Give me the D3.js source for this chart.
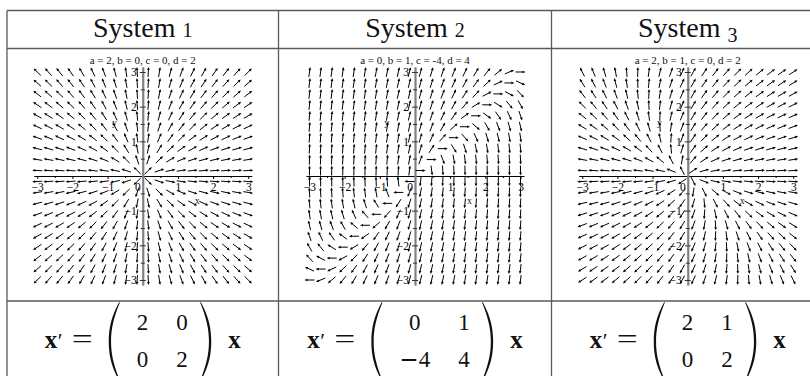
<!DOCTYPE html>
<html>
<head>
<meta charset="utf-8">
<script src="https://cdn.jsdelivr.net/npm/d3@7"></script>
<style>
  html, body { margin: 0; padding: 0; background: #fff; }
  svg { display: block; }
</style>
</head>
<body>
<svg id="chart" width="810" height="376"></svg>
<script>
// Three linear systems x' = A x, A = [[a, b], [c, d]]
const systemNames   = ["System", "System", "System"];
const systemNumbers = ["1", "2", "3"];
const coefA = [2, 0, 2];
const coefB = [0, 1, 1];
const coefC = [0, -4, 0];
const coefD = [2, 4, 2];

// Direction-field plot settings
const gridCount   = 20;            // arrows per row / column
const fieldMin    = -3;
const fieldMax    = 3;
const xTickValues = [-3, -2, -1, 0, 1, 2, 3];
const yTickValues = [-3, -2, -1, 1, 2, 3];
const minorTickValues = [-2.5, -1.5, -0.5, 0.5, 1.5, 2.5];

// Table geometry
const colEdges = [7, 278.5, 551.5, 824];
const rowLines = [10.5, 48.5, 301, 390];
const serif = "'Liberation Serif', 'Times New Roman', serif";

const svg = d3.select("#chart");

// ---- table frame ----
const frame = svg.append("g").attr("stroke", "#5a5a5a").attr("stroke-width", 1.3).attr("fill", "none");
rowLines.forEach(yy => frame.append("line").attr("x1", colEdges[0]).attr("x2", colEdges[3]).attr("y1", yy).attr("y2", yy));
colEdges.forEach(xx => frame.append("line").attr("x1", xx).attr("x2", xx).attr("y1", rowLines[0]).attr("y2", rowLines[3]));

const fmt = v => (v < 0 ? "\u2212" + (-v) : String(v));

systemNames.forEach((name, i) => {
  const cx = (colEdges[i] + colEdges[i + 1]) / 2;
  const a = coefA[i], b = coefB[i], c = coefC[i], d = coefD[i];

  // ---- header with old-style figure ----
  const head = svg.append("text")
    .attr("x", cx).attr("y", 36.5)
    .attr("text-anchor", "middle")
    .attr("font-family", serif).attr("font-size", 28).attr("fill", "#111");
  head.append("tspan").text(name + " ");
  const digit = systemNumbers[i];
  head.append("tspan")
    .attr("font-size", 20)
    .attr("dy", digit === "3" ? 5 : 0)
    .text(digit);

  // ---- direction field ----
  const ux = 35.17, uy = 34.67, oy = 176;
  const xs = d3.scaleLinear().domain([-3.1, 3.1]).range([cx - 3.1 * ux, cx + 3.1 * ux]);
  const ys = d3.scaleLinear().domain([-3.15, 3.15]).range([oy + 3.15 * uy, oy - 3.15 * uy]);

  const plot = svg.append("g");

  plot.append("text")
    .attr("x", xs(0)).attr("y", 63.5)
    .attr("text-anchor", "middle")
    .attr("font-family", serif).attr("font-size", 11).attr("fill", "#111")
    .text(`a = ${a}, b = ${b}, c = ${c}, d = ${d}`);

  // x axis
  const xAxis = plot.append("g").attr("transform", `translate(0,${ys(0)})`)
    .call(d3.axisBottom(xs).tickValues(xTickValues).tickSizeInner(3).tickSizeOuter(0).tickPadding(4)
      .tickFormat(fmt));
  xAxis.attr("font-family", serif);
  xAxis.select(".domain").attr("stroke", "#000").attr("stroke-width", 1);
  xAxis.selectAll(".tick line").attr("stroke", "#000");
  xAxis.selectAll(".tick text")
    .attr("font-family", serif).attr("font-size", 11.5).attr("fill", "#000")
    .attr("dx", v => (v === 0 ? -5.5 : 0));
  const xMinor = plot.append("g").attr("transform", `translate(0,${ys(0)})`)
    .call(d3.axisBottom(xs).tickValues(minorTickValues).tickSizeInner(2).tickSizeOuter(0).tickFormat(""));
  xMinor.select(".domain").remove();

  // y axis
  const yAxis = plot.append("g").attr("transform", `translate(${xs(0)},0)`)
    .call(d3.axisLeft(ys).tickValues(yTickValues).tickSizeInner(3).tickSizeOuter(0).tickPadding(3)
      .tickFormat(fmt));
  yAxis.attr("font-family", serif);
  yAxis.select(".domain").attr("stroke", "#808080").attr("stroke-width", 2.2);
  yAxis.selectAll(".tick line").attr("stroke", "#333").attr("x2", 3).attr("x1", -3);
  yAxis.selectAll(".tick text")
    .attr("font-family", serif).attr("font-size", 11.5).attr("fill", "#000");
  const yMinor = plot.append("g").attr("transform", `translate(${xs(0)},0)`)
    .call(d3.axisLeft(ys).tickValues(minorTickValues).tickSizeInner(2).tickSizeOuter(0).tickFormat(""));
  yMinor.select(".domain").remove();
  yMinor.selectAll(".tick line").attr("stroke", "#333").attr("x1", 2).attr("x2", -2);

  // axis names
  plot.append("text").attr("x", xs(-0.8)).attr("y", ys(1.55) + 3.5)
    .attr("text-anchor", "middle").attr("font-family", serif).attr("font-size", 10).attr("fill", "#222").text("y");
  plot.append("text").attr("x", xs(1.55)).attr("y", ys(-0.7) + 3.5)
    .attr("text-anchor", "middle").attr("font-family", serif).attr("font-size", 10).attr("fill", "#222").text("x");

  // arrows
  const step = (fieldMax - fieldMin) / (gridCount - 1);
  const gridVals = d3.range(gridCount).map(k => fieldMin + k * step);
  const pts = [];
  gridVals.forEach(gx => gridVals.forEach(gy => pts.push([gx, gy])));
  const L = 10, headLen = 3.0, headW = 1.35;
  const arrows = plot.append("g");
  pts.forEach(([gx, gy]) => {
    const u = a * gx + b * gy;
    const v = c * gx + d * gy;
    let dx = u * ux, dy = -v * uy;
    const n = Math.hypot(dx, dy);
    if (n === 0) return;
    dx /= n; dy /= n;
    const px = xs(gx), py = ys(gy);
    const tx = px - dx * L / 2, ty = py - dy * L / 2;
    const hx = px + dx * L / 2, hy = py + dy * L / 2;
    const bx = hx - dx * headLen, by = hy - dy * headLen;
    arrows.append("line")
      .attr("x1", tx).attr("y1", ty).attr("x2", bx + dx * 0.5).attr("y2", by + dy * 0.5)
      .attr("stroke", "#000").attr("stroke-width", 1);
    arrows.append("path")
      .attr("d", `M${hx},${hy}L${bx - dy * headW},${by + dx * headW}L${bx + dy * headW},${by - dx * headW}Z`)
      .attr("fill", "#000");
  });

  // ---- matrix equation ----
  const eq = svg.append("g");
  const baseY = 348, row1Y = 330, row2Y = 366.5;
  const mathSize = 23;

  const xb = eq.append("text").attr("x", 0).attr("y", baseY)
    .attr("font-family", serif).attr("font-weight", "bold").attr("font-size", 25).attr("fill", "#111").text("x");
  const xbW = xb.node().getComputedTextLength();
  eq.append("text").attr("x", xbW + 0.5).attr("y", baseY)
    .attr("font-family", serif).attr("font-size", 22).attr("fill", "#111").text("\u2032");
  eq.append("text").attr("x", 27).attr("y", baseY)
    .attr("font-family", serif).attr("font-size", 27).attr("fill", "#111")
    .attr("textLength", 21).attr("lengthAdjust", "spacingAndGlyphs").text("=");

  const parenTop = 302, parenBot = 381, parenW = 10.5;
  const parenPath = (x0, dir) => {
    // dir = 1 for "(", -1 for ")"; x0 is the bulge side
    const h = parenBot - parenTop, mid = (parenTop + parenBot) / 2;
    const t = 2.3, e = 0.6;
    const X = dx => x0 + dir * dx;
    return `M${X(parenW)},${parenTop}` +
      `C${X(parenW * 0.25)},${parenTop + h * 0.18} ${X(0)},${parenTop + h * 0.33} ${X(0)},${mid}` +
      `C${X(0)},${parenBot - h * 0.33} ${X(parenW * 0.25)},${parenBot - h * 0.18} ${X(parenW)},${parenBot}` +
      `L${X(parenW + e)},${parenBot - 0.6}` +
      `C${X(parenW * 0.25 + t)},${parenBot - h * 0.2} ${X(t)},${parenBot - h * 0.34} ${X(t)},${mid}` +
      `C${X(t)},${parenTop + h * 0.34} ${X(parenW * 0.25 + t)},${parenTop + h * 0.2} ${X(parenW + e)},${parenTop + 0.6}Z`;
  };
  eq.append("path").attr("d", parenPath(64, 1)).attr("fill", "#111");

  const entries = [[a, b], [c, d]];
  const addEntry = (v, yy) => {
    const t = eq.append("text").attr("y", yy)
      .attr("font-family", serif).attr("font-size", mathSize).attr("fill", "#111")
      .attr("text-anchor", "middle");
    if (v < 0) {
      t.append("tspan").attr("font-family", "'DejaVu Sans', sans-serif").text("\u2212");
      t.append("tspan").text(String(-v));
    } else {
      t.text(String(v));
    }
    return t;
  };
  let cursor = 92;
  [0, 1].forEach(j => {
    const t1 = addEntry(entries[0][j], row1Y);
    const t2 = addEntry(entries[1][j], row2Y);
    const w = Math.max(t1.node().getComputedTextLength(), t2.node().getComputedTextLength());
    t1.attr("x", cursor + w / 2);
    t2.attr("x", cursor + w / 2);
    cursor += w + (j === 0 ? 28 : 0);
  });
  const rpX = cursor + 13 + parenW;
  eq.append("path").attr("d", parenPath(rpX, -1)).attr("fill", "#111");
  const lastX = rpX + 17;
  const xe = eq.append("text").attr("x", lastX).attr("y", baseY)
    .attr("font-family", serif).attr("font-weight", "bold").attr("font-size", 25).attr("fill", "#111").text("x");
  const total = lastX + xe.node().getComputedTextLength();
  eq.attr("transform", `translate(${cx - total / 2},0)`);
});
</script>
</body>
</html>
